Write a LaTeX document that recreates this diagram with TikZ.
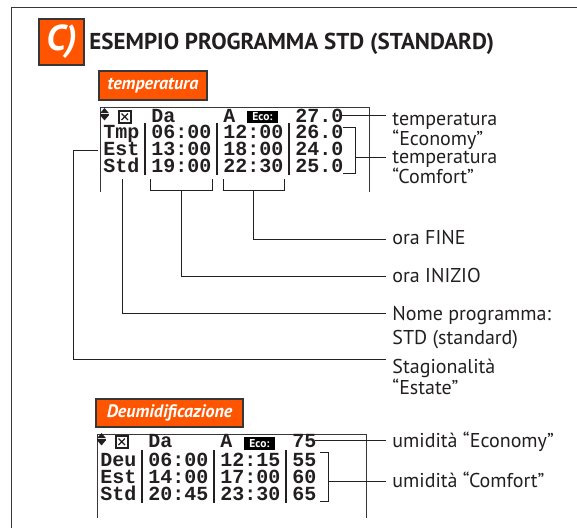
\documentclass[tikz,border=0pt]{standalone}
\usepackage{fontspec}
\setmainfont{PT Sans}
\newfontfamily\lcdfont{Liberation Mono}
\usetikzlibrary{positioning,arrows.meta,calc}
\definecolor{tagorange}{RGB}{255,85,0}
\definecolor{framegray}{RGB}{55,55,55}
\definecolor{inkblack}{RGB}{35,31,32}

\newcommand{\lcdicons}[2]{%
  \begin{scope}[shift={(#1,#2)}]
    \fill (-0.5,5.2) -- (8.5,5.2) -- (4,0) -- cycle;
    \draw[line width=1pt] (-0.5,6.2) -- (8.5,6.2);
    \fill (-0.5,7.2) -- (8.5,7.2) -- (4,12.4) -- cycle;
    \fill (17.5,2) rectangle (31,15.5);
    \fill[white] (19.3,3.8) rectangle (29.2,13.7);
    \draw[line width=1.2pt] (21,5.5) -- (27.5,12) (21,12) -- (27.5,5.5);
  \end{scope}}

\begin{document}
\begin{tikzpicture}[x=1pt, y=-1pt, line width=0.9pt, color=inkblack,
  lcd/.style={font=\lcdfont\bfseries\fontsize{20}{20}\selectfont, anchor=base west, inner sep=0pt,
    text height=11pt, text depth=0pt},
  lbl/.style={font=\fontsize{20}{23}\selectfont, anchor=base west, inner xsep=6pt, inner ysep=0pt},
  tag/.style={draw=framegray, line width=2pt, fill=tagorange, text=white, inner sep=0pt,
    font=\bfseries\itshape\fontsize{18}{18}\selectfont},
  eco/.style={fill=black, text=white, inner sep=0pt, minimum width=31, minimum height=12.5,
    font=\bfseries\fontsize{11.5}{11.5}\selectfont},
  lcdframe/.style={draw=framegray, line width=1pt}]
  \useasboundingbox (0,0) rectangle (577,528);
  \draw[framegray, line width=1.5pt] (11.5,528) |- (577,7.5);

  \node[tag, minimum width=45, minimum height=46, font=\bfseries\itshape\fontsize{36}{36}\selectfont] (cbox) at (61.5,42) {C)};
  \node[anchor=base west, inner sep=0pt, font=\bfseries\fontsize{23}{23}\selectfont] (title) at (89,49) {ESEMPIO PROGRAMMA STD (STANDARD)};

  \node[tag, minimum width=108, minimum height=29] (tagtemp) at (153,85.5) {temperatura};
  \node[tag, minimum width=147, minimum height=28] (tagdeu) at (169.5,413) {Deumidificazione};

  \draw[lcdframe] (100.5,192) |- (369,107.5) -- (369,192);
  \lcdicons{100.5}{108}
  \node[lcd] (da1) at (151,122) {Da};
  \node[lcd] (a1) at (223,122) {A};
  \node[eco] (eco1) at (262.5,117) {Eco:};
  \node[lcd] (v27) at (295,122) {27.0};
  \node[lcd] (tmp) at (103,138) {Tmp};
  \node[lcd] (est1) at (103,155) {Est};
  \node[lcd] (std1) at (103,172) {Std};
  \node[lcd] (h11) at (151,138) {06:00};
  \node[lcd] (h12) at (151,155) {13:00};
  \node[lcd] (h13) at (151,172) {19:00};
  \node[lcd] (h21) at (223,138) {12:00};
  \node[lcd] (h22) at (223,155) {18:00};
  \node[lcd] (h23) at (223,172) {22:30};
  \node[lcd] (v26) at (295,138) {26.0};
  \node[lcd] (v24) at (295,155) {24.0};
  \node[lcd] (v25) at (295,172) {25.0};
  \draw[line width=1.2pt] (145,123) -- (145,175) (217,123) -- (217,175) (289,123) -- (289,175);

  \draw[lcdframe] (97.5,518) |- (366,434.5) -- (366,518);
  \lcdicons{97.5}{433}
  \node[lcd] (da2) at (148,447) {Da};
  \node[lcd] (a2) at (220,447) {A};
  \node[eco] (eco2) at (259.5,443.5) {Eco:};
  \node[lcd] (v75) at (292,447) {75};
  \node[lcd] (deu) at (100,466) {Deu};
  \node[lcd] (est2) at (100,483) {Est};
  \node[lcd] (std2) at (100,500) {Std};
  \node[lcd] (d11) at (148,466) {06:00};
  \node[lcd] (d12) at (148,483) {14:00};
  \node[lcd] (d13) at (148,500) {20:45};
  \node[lcd] (d21) at (220,466) {12:15};
  \node[lcd] (d22) at (220,483) {17:00};
  \node[lcd] (d23) at (220,500) {23:30};
  \node[lcd] (v55) at (292,466) {55};
  \node[lcd] (v60) at (292,483) {60};
  \node[lcd] (v65) at (292,500) {65};
  \draw[line width=1.2pt] (142,450) -- (142,503) (214,450) -- (214,503) (286,450) -- (286,503);

  \node[lbl] (teco) at (386,125) {temperatura};
  \node[lbl] (teco2) at (386,145) {“Economy”};
  \node[lbl] (tcom) at (386,163) {temperatura};
  \node[lbl] (tcom2) at (386,183) {“Comfort”};
  \node[lbl] (fine) at (386,244) {ora FINE};
  \node[lbl] (ini) at (386,282) {ora INIZIO};
  \node[lbl] (nome) at (386,320) {Nome programma:};
  \node[lbl] (nome2) at (386,344) {STD (standard)};
  \node[lbl] (stag) at (386,373) {Stagionalità};
  \node[lbl] (stag2) at (386,394) {“Estate”};
  \node[lbl] (ueco) at (386,447) {umidità “Economy”};
  \node[lbl] (ucom) at (386,487) {umidità “Comfort”};

  \coordinate (c27) at (342,115);
  \coordinate (brk1) at (355,157);
  \coordinate (est) at (98,150);
  \coordinate (staggo) at (73,359);
  \coordinate (std) at (122,179);
  \coordinate (stdgo) at (122,313);
  \coordinate (dastem) at (181.5,190);
  \coordinate (dago) at (181.5,276);
  \coordinate (astem) at (253,190);
  \coordinate (ago) at (253,239);
  \coordinate (c75) at (315,440);
  \coordinate (brk2) at (328,481);

  \draw (343,127) -| (355,173) -- (343,173);
  \draw (150,179) |- (212.5,190) -- (212.5,179);
  \draw (223,179) |- (284.5,190) -- (284.5,179);
  \draw (320,452) -| (328,501) -- (320,501);

  \draw (c27) -- (c27 -| teco.west);
  \draw (brk1) -- (brk1 -| tcom.west);
  \draw (astem) -- (ago) -- (ago -| fine.west);
  \draw (dastem) -- (dago) -- (dago -| ini.west);
  \draw (std) -- (stdgo) -- (stdgo -| nome.west);
  \draw (est) -| (staggo) -- (staggo -| stag.west);
  \draw (c75) -- (c75 -| ueco.west);
  \draw (brk2) -- (brk2 -| ucom.west);
\end{tikzpicture}
\end{document}
